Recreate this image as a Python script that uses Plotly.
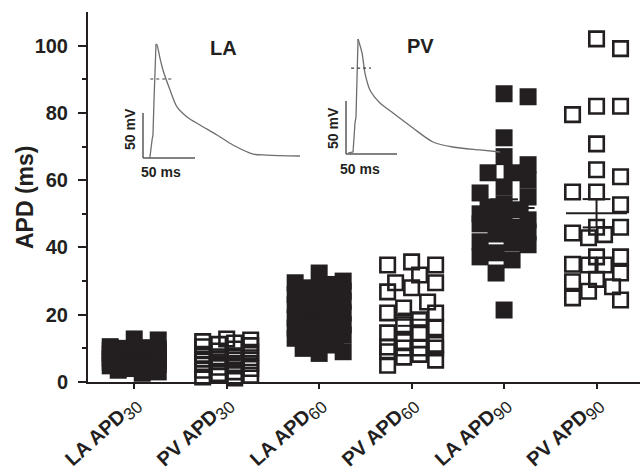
import numpy as np
import plotly.graph_objects as go

# ---------------- data ----------------
categories = ["LA APD30", "PV APD30", "LA APD60", "PV APD60", "LA APD90", "PV APD90"]
tick_main = ["LA APD", "PV APD", "LA APD", "PV APD", "LA APD", "PV APD"]
tick_sub = ["30", "30", "60", "60", "90", "90"]
y_tick_vals = [0, 20, 40, 60, 80, 100]
y_minor_vals = [10, 30, 50, 70, 90]
y_title = "APD (ms)"

la_apd30 = [12.8, 12.5, 10.5, 10.2, 10.0, 9.8, 9.5, 9.2, 9.0, 8.8, 8.5, 8.2, 8.0, 7.8, 7.5,
            7.2, 7.0, 6.8, 6.5, 6.2, 6.0, 5.5, 5.2, 5.0, 4.8, 4.5, 4.0, 3.5, 3.0, 2.6]
pv_apd30 = [12.8, 12.5, 12.0, 11.6, 11.2, 10.8, 10.5, 9.8, 9.2, 8.8, 8.2, 7.8, 7.5, 7.2,
            6.8, 6.5, 6.0, 5.5, 5.2, 4.8, 4.4, 4.0, 3.5, 3.0, 2.5, 2.0, 1.5, 1.2]
la_apd60 = [32.4, 30.0, 29.5, 29.0, 28.0, 27.0, 26.0, 25.5, 25.0, 24.0, 23.0, 22.5, 22.0, 21.0,
            20.5, 20.0, 19.0, 18.5, 18.0, 17.0, 16.0, 15.0, 14.5, 14.0, 13.0, 12.0, 11.0, 10.0,
            9.0, 8.5]
pv_apd60 = [35.7, 34.8, 34.8, 31.8, 29.5, 29.5, 28.0, 26.8, 23.8, 22.0, 20.5, 20.5, 18.5, 17.0,
            16.1, 14.6, 14.6, 12.0, 11.2, 10.4, 10.1, 10.1, 10.1, 9.0, 8.2, 7.4, 6.5, 5.0]
la_apd90 = [85.7, 84.8, 72.6, 67.0, 64.6, 62.2, 62.2, 60.0, 58.0, 56.2, 55.0, 53.0, 52.0, 51.2,
            50.0, 49.0, 48.2, 48.2, 47.0, 46.0, 44.6, 44.0, 41.7, 41.4, 40.8, 38.4, 37.2, 36.3,
            32.4, 21.4]
pv_apd90 = [102.0, 99.1, 82.0, 82.0, 79.5, 70.8, 63.1, 61.0, 56.5, 56.5, 52.7, 46.0, 46.0, 44.3,
            43.8, 42.9, 37.2, 37.2, 35.0, 34.8, 34.8, 32.4, 30.5, 29.8, 28.3, 27.0, 25.0, 24.4]

groups = [la_apd30, pv_apd30, la_apd60, pv_apd60, la_apd90, pv_apd90]
filled = [True, False, True, False, True, False]

# action potential insets (time in ms, voltage in mV)
la_ap_t = [5.8, 6.7, 8.7, 9.6, 10.6, 12.5, 13.5, 16.3, 19.2, 26.0, 32.7, 42.3, 54.8, 71.2,
           86.5, 105.8, 119.2, 151.0]
la_ap_v = [-80.0, -78.9, -60.0, -54.4, -15.6, 46.7, 45.6, 31.0, 17.8, -4.4, -23.3, -34.4,
           -43.3, -54.4, -65.6, -75.6, -76.7, -77.8]
pv_ap_t = [2.0, 6.9, 8.8, 9.8, 11.8, 15.7, 18.6, 23.5, 33.3, 46.1, 65.7, 85.3, 104.9, 131.4,
           151.0]
pv_ap_v = [-79.1, -78.1, -50.8, -45.1, 28.5, 15.3, -3.6, -19.6, -31.9, -41.3, -55.5, -68.7,
           -73.4, -76.2, -78.1]
la_dot_t = [7.0, 28.0]
la_dot_v = 7.8
pv_dot_t = [5.0, 24.5]
pv_dot_v = 1.1
scale_ms = 50
scale_mv = 50
rest_mv = -80

# ---------------- geometry / style ----------------
W, H = 640, 470
ML, MR, MT, MB = 88, 0, 12, 88
PW, PH = W - ML - MR, H - MT - MB
Y_RANGE = [0, 110]
X_RANGE = [-0.5, 5.47]
PX_PER_UNIT = PH / (Y_RANGE[1] - Y_RANGE[0])
PX_PER_CAT = PW / (X_RANGE[1] - X_RANGE[0])
INK = "#231f20"
FONT = "Liberation Sans, Arial, sans-serif"
MARK_PX = 17


def swarm(values, step_px=8, max_k=3):
    """Deterministic beeswarm: returns x offsets (category units)."""
    order = sorted(range(len(values)), key=lambda i: -values[i])
    placed = []
    offs = [0.0] * len(values)
    cands = [0]
    for k in range(1, max_k + 1):
        cands += [k, -k]
    for i in order:
        v = values[i]
        best = None
        for k in cands:
            dx = k * step_px
            ov = 0.0
            for (px, pv) in placed:
                ox = max(0.0, MARK_PX - abs(dx - px))
                oy = max(0.0, MARK_PX - abs((v - pv) * PX_PER_UNIT))
                ov += ox * oy
            score = ov + 0.5 * abs(dx)
            if best is None or score < best[0] - 1e-9:
                best = (score, dx)
        placed.append((best[1], v))
        offs[i] = best[1] / PX_PER_CAT
    return offs


fig = go.Figure()


def inset_axes(box, origin, px_per_ms, px_per_mv):
    x0, x1, y0, y1 = box
    ox, oy = origin
    t_rng = [(x0 - ox) / px_per_ms, (x1 - ox) / px_per_ms]
    v_rng = [rest_mv + (oy - y1) / px_per_mv, rest_mv + (oy - y0) / px_per_mv]
    dx = [(x0 - ML) / PW, (x1 - ML) / PW]
    dy = [(MT + PH - y1) / PH, (MT + PH - y0) / PH]
    return t_rng, v_rng, dx, dy


def paper_xy(px, py):
    return (px - ML) / PW, (MT + PH - py) / PH


insets = [
    dict(t=la_ap_t, v=la_ap_v, dot_t=la_dot_t, dot_v=la_dot_v, xa="x2", ya="y2",
         box=(120, 320, 30, 185), origin=(143, 158), pms=52 / 50, pmv=45 / 50,
         title="LA", title_px=(223, 47.5), mv_px=(130, 129), ms_px=(160.5, 172)),
    dict(t=pv_ap_t, v=pv_ap_v, dot_t=pv_dot_t, dot_v=pv_dot_v, xa="x3", ya="y3",
         box=(325, 520, 28, 185), origin=(346, 154), pms=51 / 50, pmv=53 / 50,
         title="PV", title_px=(420, 46), mv_px=(333, 128), ms_px=(360, 169)),
]

annotations = []
for n, ins in enumerate(insets):
    t_rng, v_rng, dxd, dyd = inset_axes(ins["box"], ins["origin"], ins["pms"], ins["pmv"])
    k = n + 2
    fig.update_layout(**{
        f"xaxis{k}": dict(domain=dxd, range=t_rng, visible=False, anchor=f"y{k}",
                          fixedrange=True, automargin=False),
        f"yaxis{k}": dict(domain=dyd, range=v_rng, visible=False, anchor=f"x{k}",
                          fixedrange=True, automargin=False),
    })
    common = dict(xaxis=ins["xa"], yaxis=ins["ya"], showlegend=False, hoverinfo="skip")
    # scale bars
    fig.add_trace(go.Scatter(x=[0, 0, None, 0, scale_ms],
                             y=[rest_mv + scale_mv, rest_mv, None, rest_mv, rest_mv],
                             mode="lines", line=dict(color="#58595b", width=1.5), **common))
    # action potential: upstroke (straight) + repolarisation (smoothed)
    ipk = int(np.argmax(ins["v"]))
    fig.add_trace(go.Scatter(x=ins["t"][:ipk + 1], y=ins["v"][:ipk + 1], mode="lines",
                             line=dict(color="#6d6e71", width=1.3), **common))
    fig.add_trace(go.Scatter(x=ins["t"][ipk:], y=ins["v"][ipk:], mode="lines",
                             line=dict(color="#6d6e71", width=1.3, shape="spline", smoothing=0.8),
                             **common))
    # dotted level
    fig.add_trace(go.Scatter(x=ins["dot_t"], y=[ins["dot_v"]] * 2, mode="lines",
                             line=dict(color="#414042", width=1.2, dash="dot"), **common))
    px, py = paper_xy(*ins["title_px"])
    annotations.append(dict(x=px, y=py, xref="paper", yref="paper", text=f"<b>{ins['title']}</b>",
                            showarrow=False, font=dict(family=FONT, size=20, color=INK),
                            xanchor="center", yanchor="middle"))
    px, py = paper_xy(*ins["mv_px"])
    annotations.append(dict(x=px, y=py, xref="paper", yref="paper", text=f"<b>{scale_mv} mV</b>",
                            showarrow=False, textangle=-90, font=dict(family=FONT, size=14, color=INK),
                            xanchor="center", yanchor="middle"))
    px, py = paper_xy(*ins["ms_px"])
    annotations.append(dict(x=px, y=py, xref="paper", yref="paper", text=f"<b>{scale_ms} ms</b>",
                            showarrow=False, font=dict(family=FONT, size=14, color=INK),
                            xanchor="center", yanchor="middle"))

# y-axis title as rotated text
tx, ty = paper_xy(25, 197)
annotations.append(dict(x=tx, y=ty, xref="paper", yref="paper", text=f"<b>{y_title}</b>",
                        showarrow=False, textangle=-90, font=dict(family=FONT, size=23, color=INK),
                        xanchor="center", yanchor="middle"))

# main scatter groups
for i, vals in enumerate(groups):
    offs = swarm(vals)
    xs = [i + o for o in offs]
    if filled[i]:
        marker = dict(symbol="square", size=MARK_PX, color=INK, line=dict(width=0))
    else:
        marker = dict(symbol="square-open", size=MARK_PX - 2.5, color=INK, line=dict(width=2.6, color=INK))
    fig.add_trace(go.Scatter(x=xs, y=vals, mode="markers", marker=marker, cliponaxis=False,
                             showlegend=False, name=categories[i]))

# mean and SEM lines
lx, ly = [], []
for i, vals in enumerate(groups):
    a = np.array(vals, dtype=float)
    m = a.mean()
    sem = a.std(ddof=1) / np.sqrt(len(a))
    lx += [i - 0.33, i + 0.33, None, i - 0.15, i + 0.15, None, i - 0.15, i + 0.15, None, i, i, None]
    ly += [m, m, None, m + sem, m + sem, None, m - sem, m - sem, None, m - sem, m + sem, None]
fig.add_trace(go.Scatter(x=lx, y=ly, mode="lines", line=dict(color=INK, width=2),
                         showlegend=False, hoverinfo="skip"))

ticktext = [f"<b>{a}</b><sub><span style='font-size:17px'>{b}</span></sub>"
            for a, b in zip(tick_main, tick_sub)]

fig.update_layout(
    width=W, height=H,
    margin=dict(l=ML, r=MR, t=MT, b=MB, pad=0, autoexpand=False),
    paper_bgcolor="white", plot_bgcolor="rgba(0,0,0,0)",
    font=dict(family=FONT, color=INK),
    showlegend=False,
    annotations=annotations,
    xaxis=dict(range=X_RANGE, tickvals=list(range(len(categories))), ticktext=ticktext,
               tickangle=-42, tickfont=dict(family=FONT, size=20, color=INK), automargin=False,
               ticklabelstandoff=-5,
               showline=True, linecolor=INK, linewidth=2, ticks="outside", ticklen=5,
               tickwidth=2, tickcolor=INK, showgrid=False, zeroline=False, fixedrange=True),
    yaxis=dict(range=Y_RANGE, tickvals=y_tick_vals, ticktext=[f"<b>{v}</b>" for v in y_tick_vals],
               tickfont=dict(family=FONT, size=20, color=INK), ticklabelstandoff=6,
               automargin=False,
               showline=True, linecolor=INK, linewidth=2, ticks="outside", ticklen=8,
               tickwidth=2, tickcolor=INK, showgrid=False, zeroline=False, fixedrange=True,
               minor=dict(tickmode="array", tickvals=y_minor_vals, ticks="outside", ticklen=4,
                          tickwidth=2, tickcolor=INK, showgrid=False)),
)

fig.write_html("out.html")
